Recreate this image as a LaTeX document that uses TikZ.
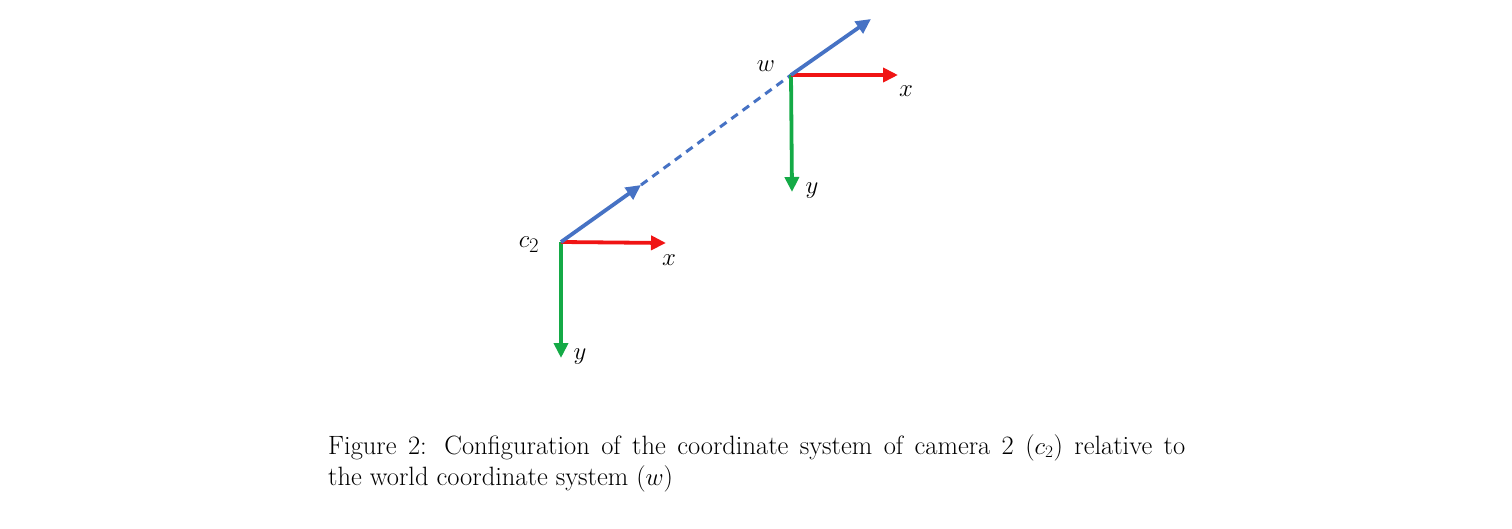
\documentclass[tikz,border=0pt]{standalone}
\usetikzlibrary{arrows.meta}
\definecolor{axblue}{RGB}{70,114,196}
\definecolor{axred}{RGB}{240,20,20}
\definecolor{axgreen}{RGB}{20,170,70}
\begin{document}
\begin{tikzpicture}[x=1pt,y=-1pt,
  axis/.style={line width=3.8pt,-{Triangle[length=15pt,width=14pt]}},
  lbl/.style={inner sep=0pt,font=\fontsize{32}{34}\selectfont},
  captext/.style={inner sep=0pt,anchor=base west,font=\fontsize{26.5}{31}\selectfont}]
\useasboundingbox (0,0) rectangle (1512,529);
% camera c2
\coordinate (c) at (561,242);
\coordinate (cx) at (666,243);
\coordinate (cy) at (561,358);
\coordinate (cz) at (641,185);
% world w
\coordinate (w) at (791,75);
\coordinate (wx) at (898,75);
\coordinate (wy) at (792,192);
\coordinate (wz) at (871,19);
\draw[axis,axgreen] (c) -- (cy);
\draw[axis,axred] (c) -- (cx);
\draw[axis,axblue] (c) -- (cz);
\draw[axblue,line width=3pt,dash pattern=on 8pt off 6pt] (cz) -- (w);
\draw[axis,axgreen] (w) -- (wy);
\draw[axis,axred] (w) -- (wx);
\draw[axis,axblue] (w) -- (wz);
\node[lbl] (lc) at (529,245) {$c_2$};
\node[lbl] (lcx) at (669,260) {$x$};
\node[lbl] (lcy) at (580,357) {$y$};
\node[lbl] (lw) at (766,66) {$w$};
\node[lbl] (lwx) at (906,91) {$x$};
\node[lbl] (lwy) at (812,191) {$y$};
\node[captext] (cap1) at (328,454) {\makebox[857pt][s]{Figure 2: Configuration of the coordinate system of camera 2 ($c_2$) relative to}};
\node[captext] (cap2) at (328,485) {the world coordinate system ($w$)};
\end{tikzpicture}
\end{document}
